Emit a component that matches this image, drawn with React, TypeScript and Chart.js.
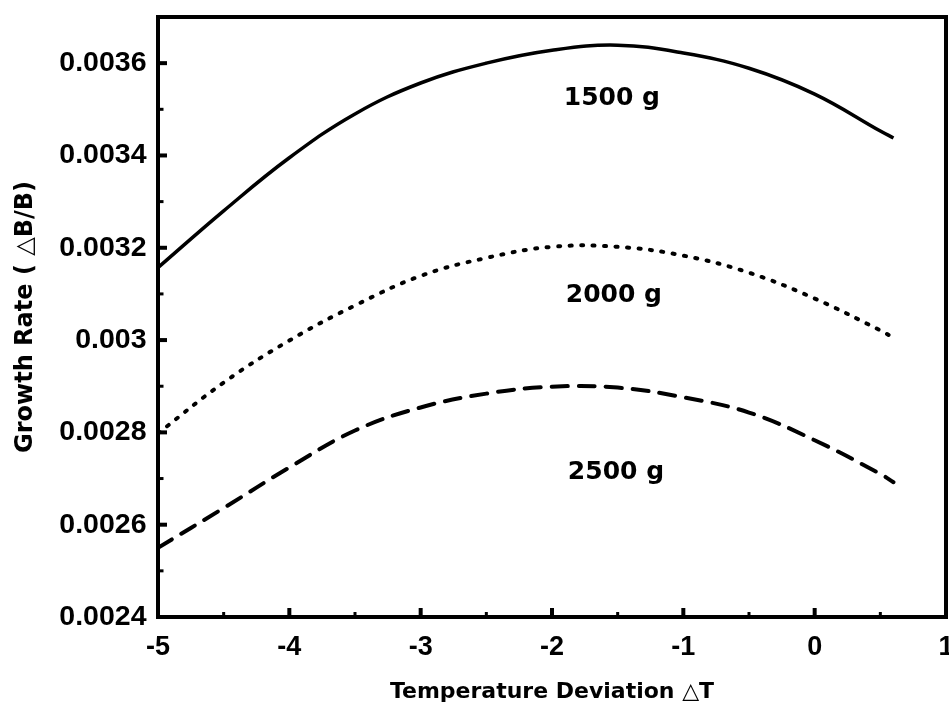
import React, { useEffect, useRef } from "react";
import { Chart, registerables } from "chart.js";

Chart.register(...registerables);

// ---- data ----
const xValues = [-5, -4.5, -4, -3.5, -3, -2.5, -2, -1.5, -1, -0.5, 0, 0.5, 0.6];
const series1500 = [0.003157, 0.00328, 0.003395, 0.00349, 0.003557, 0.0036, 0.003628, 0.003639, 0.003622, 0.003589, 0.003533, 0.003453, 0.003438];
const series2000 = [0.002798, 0.002908, 0.002999, 0.003075, 0.003139, 0.003178, 0.003202, 0.003202, 0.003183, 0.003146, 0.00309, 0.003021, 0.003005];
const series2500 = [0.00255, 0.002636, 0.002724, 0.002804, 0.002854, 0.002884, 0.002899, 0.002897, 0.002876, 0.002843, 0.002783, 0.00271, 0.002692];
const seriesNames = ["1500 g", "2000 g", "2500 g"];

const xTicks = [-5, -4, -3, -2, -1, 0, 1];
const xTickLabels = ["-5", "-4", "-3", "-2", "-1", "0", "1"];
const xMinorTicks = [-4.5, -3.5, -2.5, -1.5, -0.5, 0.5];
const yTicks = [0.0024, 0.0026, 0.0028, 0.003, 0.0032, 0.0034, 0.0036];
const yTickLabels = ["0.0024", "0.0026", "0.0028", "0.003", "0.0032", "0.0034", "0.0036"];
const yMinorTicks = [0.0025, 0.0027, 0.0029, 0.0031, 0.0033, 0.0035];

// label anchors (data units)
const labelX = [-1.544, -1.529, -1.513];
const labelY = [0.003509, 0.003082, 0.002698];

const xTitle = "Temperature Deviation \u25B3T";
const yTitle = "Growth Rate ( \u25B3B/B)";

const framePlugin = {
  id: "frameTicks",
  afterDraw(chart: any) {
    const { ctx, chartArea: a } = chart;
    const xs = chart.scales.x;
    const ys = chart.scales.y;
    ctx.save();
    ctx.strokeStyle = "#000";
    ctx.lineCap = "butt";
    const seg = (x1: number, y1: number, x2: number, y2: number, w: number) => {
      ctx.lineWidth = w;
      ctx.beginPath();
      ctx.moveTo(x1, y1);
      ctx.lineTo(x2, y2);
      ctx.stroke();
    };
    for (const v of yTicks) {
      const py = ys.getPixelForValue(v);
      seg(a.left, py, a.left + 9, py, 4);
    }
    for (const v of yMinorTicks) {
      const py = ys.getPixelForValue(v);
      seg(a.left, py, a.left + 5.5, py, 3);
    }
    for (const v of xTicks) {
      const px = xs.getPixelForValue(v);
      seg(px, a.bottom, px, a.bottom - 9, 4);
    }
    for (const v of xMinorTicks) {
      const px = xs.getPixelForValue(v);
      seg(px, a.bottom, px, a.bottom - 5, 3);
    }
    ctx.lineWidth = 4;
    ctx.strokeRect(a.left, a.top, a.right - a.left, a.bottom - a.top);

    ctx.fillStyle = "#000";
    ctx.font = 'bold 25px "DejaVu Sans"';
    ctx.textAlign = "center";
    ctx.textBaseline = "alphabetic";
    seriesNames.forEach((n, i) => {
      ctx.fillText(n, xs.getPixelForValue(labelX[i]), ys.getPixelForValue(labelY[i]));
    });
    ctx.restore();
  },
};

export default function App() {
  const ref = useRef<HTMLCanvasElement>(null);

  useEffect(() => {
    const toPts = (arr: number[]) => arr.map((v, i) => ({ x: xValues[i], y: v }));
    const common = {
      borderColor: "#000",
      pointRadius: 0,
      tension: 0.4,
      fill: false,
    };
    const chart = new Chart(ref.current as HTMLCanvasElement, {
      type: "line",
      data: {
        datasets: [
          {
            ...common,
            label: seriesNames[0],
            data: toPts(series1500),
            borderWidth: 3.5,
          },
          {
            ...common,
            label: seriesNames[1],
            data: toPts(series2000),
            borderWidth: 4,
            borderDash: [2, 9.5],
            borderCapStyle: "round",
          },
          {
            ...common,
            label: seriesNames[2],
            data: toPts(series2500),
            borderWidth: 4,
            borderDash: [16, 11],
            borderCapStyle: "round",
          },
        ],
      },
      options: {
        animation: false,
        responsive: false,
        devicePixelRatio: 1,
        layout: { padding: { top: 17, right: 3, left: 0, bottom: 0 } },
        plugins: { legend: { display: false }, tooltip: { enabled: false } },
        scales: {
          x: {
            type: "linear",
            min: -5,
            max: 1,
            grid: { display: false, drawTicks: false },
            border: { display: false },
            afterBuildTicks: (s: any) => {
              s.ticks = xTicks.map((v) => ({ value: v }));
            },
            afterFit: (s: any) => {
              s.height = 85;
              s.paddingLeft = 0;
              s.paddingRight = 0;
            },
            ticks: {
              autoSkip: false,
              maxRotation: 0,
              padding: 14.5,
              color: "#000",
              font: { family: "Liberation Sans", size: 27, weight: "bold" },
              callback: (v: any) => xTickLabels[xTicks.indexOf(Number(v))],
            },
            title: {
              display: true,
              text: xTitle,
              color: "#000",
              font: { family: "DejaVu Sans", size: 22, weight: "bold" },
              padding: { top: 0, bottom: -3 },
            },
          },
          y: {
            type: "linear",
            min: 0.0024,
            max: 0.0037,
            grid: { display: false, drawTicks: false },
            border: { display: false },
            afterBuildTicks: (s: any) => {
              s.ticks = yTicks.map((v) => ({ value: v }));
            },
            afterFit: (s: any) => {
              s.width = 158;
              s.paddingTop = 0;
              s.paddingBottom = 0;
            },
            ticks: {
              autoSkip: false,
              padding: 11.5,
              color: "#000",
              font: { family: "Liberation Sans", size: 28.5, weight: "bold" },
              callback: (v: any) => yTickLabels[yTicks.indexOf(Number(v))],
            },
            title: {
              display: true,
              text: yTitle,
              color: "#000",
              font: { family: "DejaVu Sans", size: 24, weight: "bold" },
              padding: { top: 11, bottom: 0 },
            },
          },
        },
      },
      plugins: [framePlugin],
    } as any);
    return () => chart.destroy();
  }, []);

  return (
    <div style={{ position: "fixed", left: 0, top: 0, width: 949, height: 702, background: "#fff" }}>
      <canvas ref={ref} width={949} height={702} style={{ display: "block" }} />
    </div>
  );
}
